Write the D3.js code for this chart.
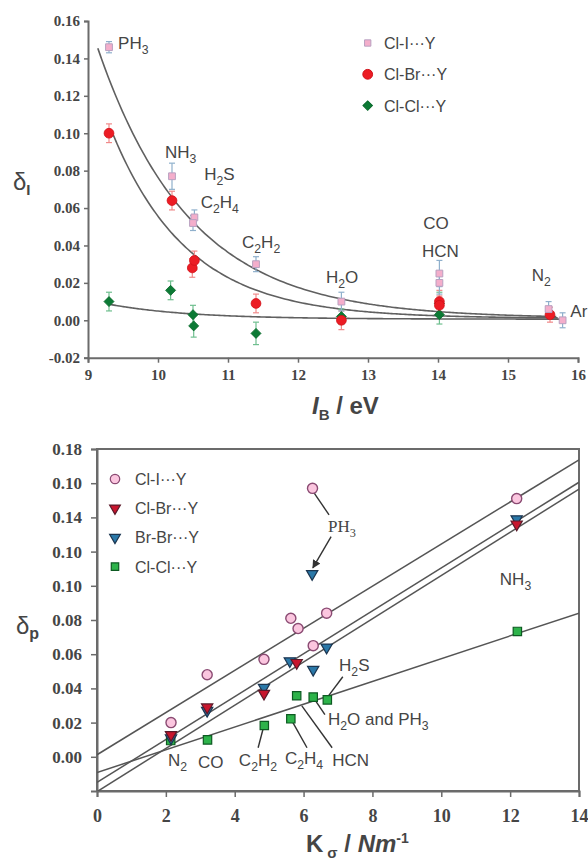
<!DOCTYPE html>
<html><head><meta charset="utf-8">
<script src="https://cdn.jsdelivr.net/npm/d3@7/dist/d3.min.js"></script>
<style>body{margin:0;background:#fff;} svg{display:block;}</style>
</head><body>
<svg id="c" width="588" height="861"></svg>
<script>
// ================= TOP CHART DATA (δI vs IB / eV) =================
const topXTicks = [9, 10, 11, 12, 13, 14, 15, 16];
const topYTicks = [-0.02, 0.00, 0.02, 0.04, 0.06, 0.08, 0.10, 0.12, 0.14, 0.16];
const topYTickLabels = ["-0.02", "0.00", "0.02", "0.04", "0.06", "0.08", "0.10", "0.12", "0.14", "0.16"];

const topClI_x   = [9.30, 10.20, 10.52, 10.50, 11.40, 12.62, 14.02, 14.02, 15.58, 15.78];
const topClI_y   = [0.146, 0.077, 0.055, 0.052, 0.030, 0.010, 0.025, 0.020, 0.006, 0.000];
const topClI_err = [0.003, 0.007, 0.004, 0.004, 0.004, 0.005, 0.007, 0.006, 0.004, 0.004];

const topClBr_x   = [9.30, 10.20, 10.49, 10.52, 11.40, 12.62, 14.02, 14.02, 15.60];
const topClBr_y   = [0.100, 0.064, 0.028, 0.032, 0.009, 0.000, 0.010, 0.008, 0.003];
const topClBr_err = [0.005, 0.005, 0.005, 0.005, 0.005, 0.005, 0.006, 0.005, 0.004];

const topClCl_x   = [9.30, 10.18, 10.50, 10.51, 11.40, 12.62, 14.02, 14.02];
const topClCl_y   = [0.010, 0.016, 0.003, -0.003, -0.007, 0.002, 0.009, 0.003];
const topClCl_err = [0.005, 0.005, 0.005, 0.006, 0.006, 0.004, 0.006, 0.005];

// fitted decay curves: y = a*exp(-b*(x-9)) + c
const topFitA = [0.1606, 0.1365, 0.0104];
const topFitB = [0.757, 0.916, 0.875];
const topFitC = [0.001, 0.001, 0.0006];
const topFitStart = [9.14, 9.36, 9.30];
const topFitEnd = [15.72, 15.72, 15.75];

const topLegend = ["Cl-I···Y", "Cl-Br···Y", "Cl-Cl···Y"];
const topLabels = ["PH3", "NH3", "H2S", "C2H4", "C2H2", "H2O", "CO", "HCN", "N2", "Ar"];
const topLabelX = [9.43, 10.10, 10.66, 10.61, 11.20, 12.40, 13.79, 13.77, 15.34, 15.89];
const topLabelY = [0.148, 0.090, 0.078, 0.063, 0.042, 0.023, 0.052, 0.037, 0.024, 0.005];

// ================= BOTTOM CHART DATA (δp vs Kσ / Nm-1) =================
const botXTicks = [0, 2, 4, 6, 8, 10, 12, 14];
const botYTicks = [0.00, 0.02, 0.04, 0.06, 0.08, 0.10, 0.12, 0.14, 0.16, 0.18];
const botYTickLabels = ["0.00", "0.02", "0.04", "0.06", "0.08", "0.10", "0.10", "0.14", "0.10", "0.18"];

const botClI_x = [2.15, 3.20, 4.85, 5.63, 5.84, 6.28, 6.67, 6.26, 12.19];
const botClI_y = [0.020, 0.048, 0.057, 0.081, 0.075, 0.065, 0.084, 0.157, 0.151];

const botBrBr_x = [2.15, 3.20, 4.85, 5.60, 6.28, 6.67, 6.25, 12.19];
const botBrBr_y = [0.011, 0.027, 0.0405, 0.056, 0.051, 0.064, 0.107, 0.139];

const botClBr_x = [2.15, 3.20, 4.85, 5.80, 12.19];
const botClBr_y = [0.0128, 0.029, 0.037, 0.055, 0.136];

const botClCl_x = [2.14, 3.21, 4.86, 5.63, 5.80, 6.28, 6.69, 12.21];
const botClCl_y = [0.0095, 0.0099, 0.0183, 0.0222, 0.0357, 0.0349, 0.0333, 0.0733];

// regression lines y = m*x + q
const botFitQ = [0.0012, -0.0150, -0.0204, -0.0092];
const botFitM = [0.01232, 0.01254, 0.01264, 0.00666];

const botLegend = ["Cl-I···Y", "Cl-Br···Y", "Br-Br···Y", "Cl-Cl···Y"];
const botLabels = ["N2", "CO", "C2H2", "C2H4", "HCN", "H2O and PH3", "H2S", "NH3"];
const botLabelX = [2.06, 2.93, 4.12, 5.46, 6.83, 6.71, 7.03, 11.70];
const botLabelY = [-0.0018, -0.0029, -0.0018, -0.0006, -0.0018, 0.0222, 0.0538, 0.1041];
// leader lines [x1,y1,x2,y2] in data units
const botLeaders = [
  [4.85, 0.0183, 4.68, 0.0053],
  [5.63, 0.0222, 6.10, 0.0053],
  [5.95, 0.0298, 6.83, 0.0053],
  [6.33, 0.0333, 6.62, 0.0246],
  [6.68, 0.0345, 7.14, 0.0468],
  [6.26, 0.1556, 6.74, 0.1415]
];
const botArrow = [6.80, 0.1287, 6.27, 0.1105];

// ================= DRAWING =================
const svg = d3.select("#c");
const AX = "#6b6b6b";
const TXT = "#454545";
const SANS = "'Liberation Sans', Arial, sans-serif";
const SERIF = "'Liberation Serif', 'Times New Roman', serif";

function chem(textSel, str, fs) {
  const parts = str.match(/\d+|\D+/g);
  const sh = Math.round(fs * 0.3);
  let shifted = false;
  parts.forEach(p => {
    const t = textSel.append("tspan").text(p);
    if (/^\d+$/.test(p)) { t.attr("font-size", fs * 0.72).attr("dy", sh); shifted = true; }
    else if (shifted) { t.attr("dy", -sh); shifted = false; }
  });
}
function styleAxis(g, fs, fam) {
  g.select(".domain").attr("stroke", AX).attr("stroke-width", 2);
  g.selectAll(".tick line").attr("stroke", AX).attr("stroke-width", 1.5);
  g.selectAll(".tick text").attr("fill", TXT).attr("font-family", fam)
    .attr("font-size", fs).attr("font-weight", "bold");
}

// ---------- TOP ----------
const xT = d3.scaleLinear().domain([9, 16]).range([88, 578]);
const yT = d3.scaleLinear().domain([-0.02, 0.16]).range([357.7, 21]);

const gT = svg.append("g");
const gyT = gT.append("g").attr("transform", `translate(${xT(9)},0)`)
  .call(d3.axisLeft(yT).tickValues(topYTicks).tickFormat((d, i) => topYTickLabels[i])
    .tickSizeOuter(0).tickSize(4).tickPadding(4));
styleAxis(gyT, 15, SERIF);
const gxT = gT.append("g").attr("transform", `translate(0,${yT(-0.02)})`)
  .call(d3.axisBottom(xT).tickValues(topXTicks).tickFormat(d3.format("d"))
    .tickSizeOuter(0).tickSize(5).tickPadding(7));
styleAxis(gxT, 15, SERIF);

// fitted curves
const lineT = d3.line().x(d => xT(d[0])).y(d => yT(d[1])).curve(d3.curveBasis);
topFitA.forEach((a, k) => {
  const pts = d3.range(topFitStart[k], topFitEnd[k] + 1e-9, 0.05)
    .map(x => [x, a * Math.exp(-topFitB[k] * (x - 9)) + topFitC[k]]);
  gT.append("path").attr("d", lineT(pts)).attr("fill", "none")
    .attr("stroke", "#606060").attr("stroke-width", 1.6);
});

function errBars(xs, ys, es, col) {
  xs.forEach((x, i) => {
    const px = xT(x), y1 = yT(ys[i] - es[i]), y2 = yT(ys[i] + es[i]);
    gT.append("line").attr("x1", px).attr("x2", px).attr("y1", y1).attr("y2", y2)
      .attr("stroke", col).attr("stroke-width", 1.2);
    [y1, y2].forEach(yy => gT.append("line").attr("x1", px - 3).attr("x2", px + 3)
      .attr("y1", yy).attr("y2", yy).attr("stroke", col).attr("stroke-width", 1.2));
  });
}
errBars(topClCl_x, topClCl_y, topClCl_err, "#6fbf8f");
errBars(topClBr_x, topClBr_y, topClBr_err, "#f08a8a");
errBars(topClI_x, topClI_y, topClI_err, "#8fb0cc");

const symSq = d3.symbol().type(d3.symbolSquare);
const symCi = d3.symbol().type(d3.symbolCircle);
const symTr = d3.symbol().type(d3.symbolTriangle);

function markers(g, xs, ys, xs_, ys_, sym, size, fill, stroke, sw, rot) {
  xs.forEach((x, i) => {
    g.append("path").attr("d", sym.size(size)())
      .attr("transform", `translate(${xs_(x)},${ys_(ys[i])})` + (rot ? ` rotate(${rot})` : ""))
      .attr("fill", fill).attr("stroke", stroke).attr("stroke-width", sw);
  });
}
markers(gT, topClCl_x, topClCl_y, xT, yT, symSq, 50, "#0c7a35", "#0a6a2c", 0.8, 45);
markers(gT, topClBr_x, topClBr_y, xT, yT, symCi, 75, "#ec1c24", "#d01018", 0.8);
markers(gT, topClI_x, topClI_y, xT, yT, symSq, 46, "#f4aecb", "#b8a0c0", 1);

// top labels
topLabels.forEach((s, i) => {
  const t = gT.append("text").attr("x", xT(topLabelX[i])).attr("y", yT(topLabelY[i]) + 6)
    .attr("font-family", SANS).attr("font-size", 17).attr("fill", TXT);
  chem(t, s, 17);
});

// top legend
const legT = [[symSq, 40, "#f4aecb", "#b8a0c0", 0], [symCi, 75, "#ec1c24", "#d01018", 0], [symSq, 45, "#0c7a35", "#0a6a2c", 45]];
topLegend.forEach((s, i) => {
  const y = 43 + i * 31.3;
  gT.append("path").attr("d", legT[i][0].size(legT[i][1])())
    .attr("transform", `translate(367.7,${y})` + (legT[i][4] ? ` rotate(${legT[i][4]})` : ""))
    .attr("fill", legT[i][2]).attr("stroke", legT[i][3]).attr("stroke-width", 1);
  gT.append("text").attr("x", 384).attr("y", y + 6).attr("font-family", SANS)
    .attr("font-size", 16).attr("fill", TXT).text(s);
});

// top axis titles
const dI = gT.append("text").attr("x", 13).attr("y", 190).attr("font-family", SANS)
  .attr("font-size", 24).attr("fill", TXT);
dI.append("tspan").text("δ");
dI.append("tspan").attr("font-size", 15).attr("dy", 5).attr("font-weight", "bold").text("I");
const xtT = gT.append("text").attr("x", 312).attr("y", 414).attr("font-family", SANS)
  .attr("font-size", 24).attr("font-weight", "bold").attr("fill", TXT);
xtT.append("tspan").attr("font-style", "italic").text("I");
xtT.append("tspan").attr("font-size", 15).attr("dy", 6).text("B");
xtT.append("tspan").attr("dy", -6).text(" / eV");

// ---------- BOTTOM ----------
const xB = d3.scaleLinear().domain([0, 14]).range([97, 579]);
const yB = d3.scaleLinear().domain([-0.02, 0.18]).range([791, 449]);
const gB = svg.append("g");

gB.append("defs").append("clipPath").attr("id", "clipB").append("rect")
  .attr("x", xB(0)).attr("y", yB(0.18)).attr("width", xB(14) - xB(0)).attr("height", yB(-0.02) - yB(0.18));

gB.append("rect").attr("x", xB(0)).attr("y", yB(0.18)).attr("width", xB(14) - xB(0))
  .attr("height", yB(-0.02) - yB(0.18)).attr("fill", "none").attr("stroke", AX).attr("stroke-width", 2);

const gyB = gB.append("g").attr("transform", `translate(${xB(0)},0)`)
  .call(d3.axisLeft(yB).tickValues(botYTicks).tickFormat((d, i) => botYTickLabels[i])
    .tickSizeOuter(0).tickSize(6).tickPadding(9));
styleAxis(gyB, 17, SERIF);
const gxB = gB.append("g").attr("transform", `translate(0,${yB(-0.02)})`)
  .call(d3.axisBottom(xB).tickValues(botXTicks).tickFormat(d3.format("d"))
    .tickSizeOuter(0).tickSize(6).tickPadding(12));
styleAxis(gxB, 18, SERIF);

// regression lines
botFitQ.forEach((q, k) => {
  gB.append("line").attr("clip-path", "url(#clipB)")
    .attr("x1", xB(0)).attr("y1", yB(q)).attr("x2", xB(14)).attr("y2", yB(q + botFitM[k] * 14))
    .attr("stroke", "#555").attr("stroke-width", 1.5);
});

// leader lines
botLeaders.forEach(l => {
  gB.append("line").attr("x1", xB(l[0])).attr("y1", yB(l[1])).attr("x2", xB(l[2])).attr("y2", yB(l[3]))
    .attr("stroke", "#333").attr("stroke-width", 1.4);
});
gB.select("defs").append("marker").attr("id", "arr").attr("viewBox", "0 0 10 10").attr("refX", 9).attr("refY", 5)
  .attr("markerWidth", 6).attr("markerHeight", 6).attr("orient", "auto")
  .append("path").attr("d", "M0,0 L10,5 L0,10 z").attr("fill", "#333");
gB.append("line").attr("x1", xB(botArrow[0])).attr("y1", yB(botArrow[1]))
  .attr("x2", xB(botArrow[2])).attr("y2", yB(botArrow[3]))
  .attr("stroke", "#333").attr("stroke-width", 1.4).attr("marker-end", "url(#arr)");

// markers
markers(gB, botClCl_x, botClCl_y, xB, yB, symSq, 70, "#2db34a", "#0d5a22", 1.2);
markers(gB, botBrBr_x, botBrBr_y, xB, yB, symTr, 55, "#2a78a8", "#1b3550", 1.2, 180);
markers(gB, botClBr_x, botClBr_y, xB, yB, symTr, 55, "#c8162e", "#5a1a2a", 1.2, 180);
markers(gB, botClI_x, botClI_y, xB, yB, symCi, 80, "#fbc6df", "#8a4a72", 1.4);

// labels
botLabels.forEach((s, i) => {
  const t = gB.append("text").attr("x", xB(botLabelX[i])).attr("y", yB(botLabelY[i]) + 6)
    .attr("font-family", SANS).attr("font-size", 17).attr("fill", TXT);
  chem(t, s, 17);
});
const ph = gB.append("text").attr("x", xB(6.71)).attr("y", yB(0.1351) + 6)
  .attr("font-family", SERIF).attr("font-size", 17).attr("fill", TXT);
chem(ph, "PH3", 17);

// legend
const legB = [[symCi, 70, "#fbc6df", "#8a4a72", 0], [symTr, 50, "#c8162e", "#5a1a2a", 180],
              [symTr, 50, "#2a78a8", "#1b3550", 180], [symSq, 55, "#2db34a", "#0d5a22", 0]];
botLegend.forEach((s, i) => {
  const y = 479 + i * 29.2;
  gB.append("path").attr("d", legB[i][0].size(legB[i][1])())
    .attr("transform", `translate(115,${y})` + (legB[i][4] ? ` rotate(${legB[i][4]})` : ""))
    .attr("fill", legB[i][2]).attr("stroke", legB[i][3]).attr("stroke-width", 1.2);
  gB.append("text").attr("x", 135).attr("y", y + 6).attr("font-family", SANS)
    .attr("font-size", 16).attr("fill", TXT).text(s);
});

// bottom axis titles
const dp = gB.append("text").attr("x", 16).attr("y", 634).attr("font-family", SANS)
  .attr("font-size", 24).attr("fill", TXT);
dp.append("tspan").text("δ");
dp.append("tspan").attr("font-size", 16).attr("dy", 5).attr("font-weight", "bold").text("p");
const xtB = gB.append("text").attr("x", 306).attr("y", 852).attr("font-family", SANS)
  .attr("font-size", 24).attr("font-weight", "bold").attr("fill", TXT);
xtB.append("tspan").text("K");
xtB.append("tspan").attr("font-size", 15).attr("dy", 6).attr("dx", 4).text("σ");
xtB.append("tspan").attr("dy", -6).text(" / ");
xtB.append("tspan").attr("font-style", "italic").text("Nm");
xtB.append("tspan").attr("font-size", 14).attr("dy", -9).text("-1");
</script>
</body></html>
